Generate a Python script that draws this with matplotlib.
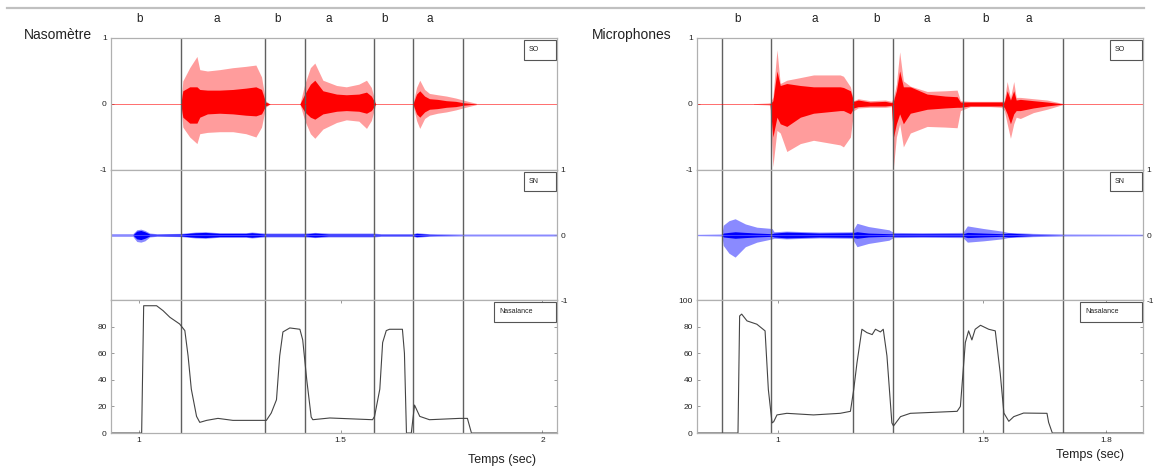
import matplotlib
matplotlib.use("Agg")
import matplotlib.pyplot as plt
from matplotlib.lines import Line2D
from matplotlib.patches import Rectangle
from matplotlib.transforms import blended_transform_factory

plt.rcParams['font.family'] = ['Liberation Sans', 'DejaVu Sans']

# ---------------- Nasometre (left) ----------------
nas_xlim = (0.931, 2.035)
nas_bounds = [1.104, 1.312, 1.411, 1.582, 1.678, 1.802]
nas_seg_t = [1.002, 1.193, 1.344, 1.470, 1.609, 1.720]
nas_seg_lab = ["b", "a", "b", "a", "b", "a"]
nas_xticks = [1, 1.5, 2]
nas_xticklabels = ["1", "1.5", "2"]
nas_nticks = [0, 20, 40, 60, 80]

# SO envelope (outer light / inner dark)
nas_so_t = [1.104, 1.109, 1.126, 1.144, 1.151, 1.170, 1.200, 1.233, 1.265, 1.290, 1.304, 1.314, 1.325,
            1.399, 1.411, 1.425, 1.436, 1.456, 1.490, 1.514, 1.545, 1.564, 1.576, 1.587,
            1.679, 1.688, 1.696, 1.708, 1.720, 1.740, 1.762, 1.785, 1.803, 1.836]
nas_so_hi = [0, 0.35, 0.55, 0.72, 0.52, 0.5, 0.52, 0.55, 0.57, 0.59, 0.41, 0.05, 0,
             0, 0.3, 0.55, 0.62, 0.36, 0.28, 0.26, 0.3, 0.36, 0.25, 0,
             0, 0.25, 0.36, 0.22, 0.16, 0.14, 0.12, 0.09, 0.06, 0.01]
nas_so_lo = [0, -0.35, -0.5, -0.6, -0.45, -0.43, -0.42, -0.42, -0.45, -0.5, -0.35, -0.05, 0,
             0, -0.25, -0.45, -0.52, -0.38, -0.28, -0.24, -0.26, -0.37, -0.25, 0,
             0, -0.25, -0.37, -0.22, -0.17, -0.14, -0.12, -0.09, -0.06, -0.01]
nas_so_ihi = [0, 0.2, 0.26, 0.26, 0.22, 0.21, 0.21, 0.22, 0.24, 0.26, 0.22, 0.03, 0,
              0, 0.15, 0.3, 0.36, 0.2, 0.15, 0.14, 0.15, 0.18, 0.12, 0,
              0, 0.15, 0.2, 0.12, 0.08, 0.07, 0.05, 0.04, 0.02, 0]
nas_so_ilo = [0, -0.2, -0.29, -0.29, -0.2, -0.15, -0.14, -0.15, -0.17, -0.18, -0.15, -0.03, 0,
              0, -0.12, -0.2, -0.23, -0.15, -0.11, -0.1, -0.11, -0.14, -0.1, 0,
              0, -0.15, -0.2, -0.12, -0.08, -0.07, -0.05, -0.04, -0.02, 0]

# SN envelope
nas_sn_t = [0.931, 0.985, 0.995, 1.005, 1.015, 1.027, 1.045, 1.104, 1.140, 1.165, 1.200, 1.265, 1.280,
            1.312, 1.340, 1.411, 1.436, 1.470, 1.582, 1.600, 1.678, 1.688, 1.720, 1.802, 2.035]
nas_sn_hi = [0.02, 0.02, 0.08, 0.09, 0.07, 0.03, 0.02, 0.025, 0.045, 0.05, 0.035, 0.035, 0.045,
             0.03, 0.03, 0.03, 0.04, 0.03, 0.03, 0.02, 0.02, 0.035, 0.02, 0.015, 0.015]
nas_sn_lo = [-0.02, -0.02, -0.1, -0.11, -0.09, -0.03, -0.02, -0.025, -0.045, -0.05, -0.035, -0.035, -0.045,
             -0.03, -0.03, -0.03, -0.04, -0.03, -0.03, -0.02, -0.02, -0.035, -0.02, -0.015, -0.015]
nas_sn_in = [0, 0, 0.06, 0.07, 0.05, 0.015, 0.01, 0.015, 0.035, 0.04, 0.025, 0.025, 0.035,
             0.015, 0.015, 0.015, 0.03, 0.015, 0.015, 0.01, 0.01, 0.025, 0.01, 0, 0]

# Nasalance curve
nas_n_t = [0.931, 1.007, 1.012, 1.044, 1.060, 1.077, 1.101, 1.114, 1.122, 1.130, 1.143, 1.151, 1.168,
           1.196, 1.233, 1.316, 1.328, 1.341, 1.349, 1.357, 1.374, 1.399, 1.406, 1.416, 1.427, 1.431,
           1.473, 1.579, 1.584, 1.597, 1.604, 1.613, 1.621, 1.653, 1.658, 1.663, 1.675, 1.683, 1.696,
           1.720, 1.795, 1.814, 1.824, 2.035]
nas_n_v = [0, 0, 95.7, 95.7, 92, 87, 82, 77, 58, 33, 12.5, 8, 9.5,
           11, 9.5, 9.5, 15, 25, 58, 76, 79, 78, 70, 40, 12, 10,
           11.3, 10, 12.5, 33, 68, 77, 78, 78, 60, 0, 0, 21, 12.5,
           10, 11, 11, 0, 0]

# ---------------- Microphones (right) ----------------
mic_xlim = (0.802, 1.888)
mic_bounds = [0.863, 0.983, 1.183, 1.280, 1.451, 1.549, 1.695]
mic_seg_t = [0.902, 1.088, 1.239, 1.363, 1.505, 1.610]
mic_seg_lab = ["b", "a", "b", "a", "b", "a"]
mic_xticks = [1, 1.5, 1.8]
mic_xticklabels = ["1", "1.5", "1.8"]
mic_nticks = [0, 20, 40, 60, 80, 100]

mic_so_t = [0.940, 0.975, 0.980, 0.987, 0.997, 1.005, 1.021, 1.054, 1.086, 1.151, 1.159, 1.176, 1.184,
            1.195, 1.224, 1.261, 1.276,
            1.281, 1.288, 1.296, 1.305, 1.322, 1.363, 1.407, 1.436, 1.444, 1.468, 1.517, 1.544,
            1.551, 1.558, 1.566, 1.574, 1.580, 1.590, 1.622, 1.655, 1.696]
mic_so_hi = [0.005, 0.015, 0.02, 0.1, 0.82, 0.31, 0.36, 0.4, 0.44, 0.44, 0.42, 0.26, 0.05,
             0.08, 0.05, 0.06, 0.04,
             0.1, 0.3, 0.79, 0.35, 0.27, 0.19, 0.2, 0.21, 0.05, 0.04, 0.04, 0.04,
             0.05, 0.34, 0.1, 0.34, 0.1, 0.1, 0.08, 0.06, 0.005]
mic_so_lo = [-0.005, -0.015, -0.02, -0.95, -0.4, -0.44, -0.72, -0.6, -0.55, -0.62, -0.65, -0.5, -0.1,
             -0.06, -0.05, -0.05, -0.04,
             -0.95, -0.5, -0.3, -0.65, -0.44, -0.34, -0.35, -0.36, -0.1, -0.04, -0.04, -0.05,
             -0.1, -0.3, -0.52, -0.3, -0.2, -0.22, -0.13, -0.08, -0.005]
mic_so_ihi = [0, 0, 0, 0.05, 0.5, 0.28, 0.31, 0.28, 0.26, 0.26, 0.25, 0.2, 0.04,
              0.06, 0.03, 0.04, 0.02,
              0.05, 0.2, 0.5, 0.26, 0.26, 0.15, 0.12, 0.11, 0.03, 0.03, 0.03, 0.03,
              0.03, 0.2, 0.06, 0.2, 0.06, 0.07, 0.05, 0.03, 0]
mic_so_ilo = [0, 0, 0, -0.5, -0.2, -0.3, -0.34, -0.2, -0.14, -0.1, -0.1, -0.15, -0.06,
              -0.04, -0.03, -0.03, -0.02,
              -0.5, -0.3, -0.15, -0.3, -0.14, -0.08, -0.06, -0.05, -0.05, -0.03, -0.03, -0.03,
              -0.05, -0.15, -0.3, -0.15, -0.1, -0.1, -0.06, -0.03, 0]

mic_sn_t = [0.802, 0.860, 0.863, 0.866, 0.880, 0.895, 0.920, 0.948, 0.985, 0.990, 1.020, 1.100, 1.180,
            1.192, 1.220, 1.270, 1.281, 1.350, 1.450, 1.461, 1.500, 1.545, 1.560, 1.620, 1.700, 1.888]
mic_sn_hi = [0.01, 0.015, 0.02, 0.15, 0.22, 0.25, 0.17, 0.12, 0.1, 0.05, 0.06, 0.045, 0.05,
             0.18, 0.13, 0.08, 0.04, 0.035, 0.04, 0.14, 0.1, 0.06, 0.04, 0.025, 0.015, 0.012]
mic_sn_lo = [-0.01, -0.015, -0.02, -0.16, -0.28, -0.34, -0.18, -0.11, -0.06, -0.05, -0.06, -0.045, -0.05,
             -0.18, -0.13, -0.08, -0.04, -0.035, -0.04, -0.11, -0.09, -0.06, -0.04, -0.025, -0.015, -0.012]
mic_sn_in = [0, 0, 0, 0.03, 0.04, 0.05, 0.04, 0.03, 0.02, 0.03, 0.045, 0.03, 0.035,
             0.05, 0.03, 0.02, 0.02, 0.02, 0.02, 0.04, 0.03, 0.02, 0.03, 0.01, 0, 0]

mic_n_t = [0.802, 0.902, 0.906, 0.911, 0.924, 0.948, 0.968, 0.976, 0.985, 0.989, 0.997, 1.021, 1.086,
           1.151, 1.176, 1.184, 1.192, 1.204, 1.216, 1.229, 1.237, 1.249, 1.256, 1.265, 1.277, 1.281,
           1.298, 1.322, 1.436, 1.444, 1.456, 1.464, 1.472, 1.480, 1.493, 1.513, 1.529, 1.541, 1.550,
           1.562, 1.574, 1.598, 1.655, 1.659, 1.668, 1.888]
mic_n_v = [0, 0, 88, 89.4, 84.3, 81.8, 76.8, 32.6, 7.6, 8.5, 13.6, 14.8, 13.6,
           14.8, 16.3, 32.6, 52.8, 78, 75.5, 74, 78, 76, 78, 58, 7.6, 5.3,
           12.3, 14.8, 16.3, 20, 68, 76.8, 70, 78, 81, 78, 76.8, 45, 15,
           8.8, 12.3, 15, 14.8, 8, 0, 0]

LIGHT_RED = "#ff9c9c"
RED = "#ff0000"
LIGHT_BLUE = "#8a8aff"
BLUE = "#0000ff"
GRID = "#606060"
FRAME = "#b0b0b0"
TXT = "#222222"

fig = plt.figure(figsize=(11.56, 4.66), dpi=100)
fig.add_artist(Line2D([0.006, 0.99], [0.983, 0.983], color="#c0c0c0", lw=1.6))


def legend_box(ax, label, x0, w):
    ax.add_patch(Rectangle((x0, 0.835), w, 0.15, transform=ax.transAxes, fill=True,
                           fc="white", ec="#555555", lw=0.8, zorder=5))
    ax.text(x0 + 0.012, 0.91, label, transform=ax.transAxes, fontsize=5,
            ha="left", va="center", color=TXT, zorder=6)


def style(ax):
    for s in ax.spines.values():
        s.set_color(FRAME)
        s.set_linewidth(0.9)
    ax.tick_params(direction="in", length=2.5, width=0.6, color="#888888",
                   labelsize=6, labelcolor=TXT, pad=3)


def panel(x0, title, title_x, xlim, bounds, seg_t, seg_lab, xticks, xticklabels, nticks,
          so_t, so_hi, so_lo, so_ihi, so_ilo, sn_t, sn_hi, sn_lo, sn_in, n_t, n_v, xlab_x, xlab_y):
    w = 0.3855
    ax_so = fig.add_axes([x0, 0.6352, w, 0.2833])
    ax_sn = fig.add_axes([x0, 0.3562, w, 0.2790])
    ax_n = fig.add_axes([x0, 0.0708, w, 0.2854])

    # SO
    ax_so.axhline(0, color=RED, lw=0.5, alpha=0.8)
    ax_so.fill_between(so_t, so_lo, so_hi, color=LIGHT_RED, lw=0)
    ax_so.fill_between(so_t, so_ilo, so_ihi, color=RED, lw=0)
    ax_so.set_ylim(-1, 1)
    ax_so.set_yticks([-1, 0, 1])
    ax_so.set_yticklabels(["-1", "0", "1"])
    ax_so.set_xticks([])
    legend_box(ax_so, "SO", 0.926, 0.072)

    # SN
    ax_sn.axhline(0, color=LIGHT_BLUE, lw=0.6, alpha=0.6)
    ax_sn.fill_between(sn_t, sn_lo, sn_hi, color=LIGHT_BLUE, lw=0)
    ax_sn.fill_between(sn_t, [-v for v in sn_in], sn_in, color=BLUE, lw=0)
    ax_sn.set_ylim(-1, 1)
    ax_sn.yaxis.tick_right()
    ax_sn.set_yticks([-1, 0, 1])
    ax_sn.set_yticklabels(["-1", "0", "1"])
    ax_sn.set_xticks([])
    legend_box(ax_sn, "SN", 0.926, 0.072)

    # Nasalance
    ax_n.plot(n_t, n_v, color="#444444", lw=0.8)
    ax_n.set_ylim(0, 100)
    ax_n.set_yticks(nticks)
    ax_n.set_xticks(xticks)
    ax_n.set_xticklabels(xticklabels)
    legend_box(ax_n, "Nasalance", 0.859, 0.139)

    for ax in (ax_so, ax_sn, ax_n):
        ax.set_xlim(*xlim)
        style(ax)
        for b in bounds:
            ax.axvline(b, color=GRID, lw=1.0, zorder=1)
    ax_n.tick_params(top=True, right=True)

    tr = blended_transform_factory(ax_so.transData, ax_so.transAxes)
    for t, lab in zip(seg_t, seg_lab):
        ax_so.text(t, 1.145, lab, transform=tr, ha="center", va="center", fontsize=8.5, color=TXT)

    fig.text(title_x, 0.925, title, fontsize=10, ha="left", va="center", color=TXT)
    fig.text(xlab_x, xlab_y, "Temps (sec)", fontsize=9, ha="center", va="center", color=TXT)


panel(0.0960, "Nasomètre", 0.021, nas_xlim, nas_bounds, nas_seg_t, nas_seg_lab, nas_xticks,
      nas_xticklabels, nas_nticks, nas_so_t, nas_so_hi, nas_so_lo, nas_so_ihi, nas_so_ilo,
      nas_sn_t, nas_sn_hi, nas_sn_lo, nas_sn_in, nas_n_t, nas_n_v, 0.434, 0.013)
panel(0.6029, "Microphones", 0.512, mic_xlim, mic_bounds, mic_seg_t, mic_seg_lab, mic_xticks,
      mic_xticklabels, mic_nticks, mic_so_t, mic_so_hi, mic_so_lo, mic_so_ihi, mic_so_ilo,
      mic_sn_t, mic_sn_hi, mic_sn_lo, mic_sn_in, mic_n_t, mic_n_v, 0.943, 0.023)

fig.savefig("out.png", dpi=100)
